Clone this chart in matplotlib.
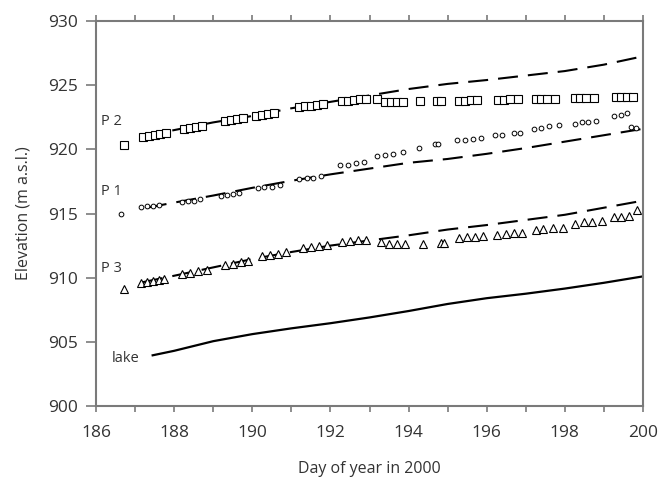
import matplotlib
matplotlib.use("Agg")
from matplotlib import pyplot as plt

plt.rcParams['font.family'] = ['Open Sans', 'DejaVu Sans']

# GPS stake positions (day of year, elevation)
p2_day = [186.72,
          187.2, 187.35, 187.5, 187.65, 187.8,
          188.25, 188.4, 188.55, 188.7,
          189.3, 189.45, 189.6, 189.75,
          190.1, 190.25, 190.4, 190.55,
          191.2, 191.35, 191.5, 191.65, 191.8,
          192.3, 192.45, 192.6, 192.75, 192.9, 193.2,
          193.4, 193.55, 193.7, 193.85,
          194.3, 194.72, 194.82,
          195.3, 195.45, 195.6, 195.75,
          196.3, 196.45, 196.6, 196.8,
          197.25, 197.4, 197.55, 197.75,
          198.25, 198.4, 198.55, 198.75,
          199.3, 199.45, 199.6, 199.75]
p2_elev = [920.3,
           920.95, 921.05, 921.1, 921.2, 921.3,
           921.6, 921.65, 921.75, 921.85,
           922.2, 922.3, 922.35, 922.45,
           922.6, 922.7, 922.75, 922.85,
           923.3, 923.35, 923.4, 923.45, 923.5,
           923.75, 923.8, 923.85, 923.9, 923.95, 923.95,
           923.7, 923.7, 923.7, 923.7,
           923.75, 923.8, 923.8,
           923.8, 923.8, 923.85, 923.85,
           923.85, 923.85, 923.9, 923.9,
           923.95, 923.95, 923.95, 923.95,
           924.0, 924.0, 924.0, 924.0,
           924.05, 924.05, 924.05, 924.1]

p1_day = [186.65,
          187.15, 187.3, 187.45, 187.6,
          188.2, 188.35, 188.5, 188.65,
          189.2, 189.35, 189.5, 189.65,
          190.15, 190.3, 190.5, 190.7,
          191.2, 191.4, 191.55, 191.75,
          192.25, 192.45, 192.65, 192.85,
          193.2, 193.4, 193.6, 193.85,
          194.27, 194.68, 194.76,
          195.25, 195.45, 195.65, 195.85,
          196.2, 196.4, 196.7, 196.85,
          197.2, 197.4, 197.6, 197.85,
          198.25, 198.45, 198.6, 198.8,
          199.25, 199.45, 199.6, 199.7, 199.82]
p1_elev = [915.0,
           915.5, 915.55, 915.6, 915.7,
           915.9, 915.95, 916.0, 916.1,
           916.4, 916.45, 916.5, 916.6,
           917.0, 917.05, 917.1, 917.2,
           917.7, 917.75, 917.8, 917.9,
           918.75, 918.8, 918.9, 919.0,
           919.45, 919.55, 919.65, 919.8,
           920.1, 920.4, 920.4,
           920.7, 920.75, 920.8, 920.9,
           921.1, 921.15, 921.25, 921.3,
           921.6, 921.7, 921.8, 921.9,
           922.0, 922.1, 922.15, 922.2,
           922.6, 922.7, 922.8, 921.75, 921.7]

p3_day = [186.71,
          187.15, 187.3, 187.45, 187.6, 187.75,
          188.2, 188.4, 188.6, 188.85,
          189.3, 189.5, 189.7, 189.9,
          190.25, 190.45, 190.65, 190.85,
          191.3, 191.5, 191.7, 191.9,
          192.3, 192.5, 192.7, 192.9,
          193.3, 193.5, 193.7, 193.9,
          194.37, 194.82, 194.9,
          195.3, 195.5, 195.7, 195.9,
          196.27, 196.5, 196.7, 196.9,
          197.25, 197.45, 197.7, 197.95,
          198.27, 198.5, 198.7, 198.95,
          199.25, 199.45, 199.65, 199.85]
p3_elev = [909.1,
           909.6, 909.7, 909.75, 909.8, 909.9,
           910.3, 910.4, 910.5, 910.6,
           911.0, 911.1, 911.2, 911.3,
           911.65, 911.75, 911.85, 912.0,
           912.3, 912.4, 912.45, 912.55,
           912.8, 912.85, 912.9, 912.95,
           912.75, 912.65, 912.6, 912.6,
           912.65, 912.7, 912.7,
           913.1, 913.15, 913.2, 913.25,
           913.35, 913.4, 913.45, 913.5,
           913.7, 913.8, 913.85, 913.9,
           914.2, 914.3, 914.35, 914.4,
           914.7, 914.75, 914.8, 915.3]

# modelled surface trends
p2_fit_day = [187.2, 188, 189, 190, 191, 192, 193, 194, 195, 196, 197, 198, 199, 200]
p2_fit_elev = [921.0, 921.5, 922.1, 922.6, 923.2, 923.7, 924.2, 924.7, 925.1, 925.4, 925.75, 926.1, 926.6, 927.25]

p1_fit_day = [187.3, 188, 189, 190, 191, 192, 193, 194, 195, 196, 197, 198, 199, 200]
p1_fit_elev = [915.45, 915.85, 916.4, 917.0, 917.55, 918.05, 918.5, 918.95, 919.25, 919.65, 920.1, 920.6, 921.1, 921.6]

p3_fit_day = [187.2, 188, 189, 190, 191, 192, 193, 194, 195, 196, 197, 198, 199, 200]
p3_fit_elev = [909.65, 910.15, 910.8, 911.45, 912.0, 912.5, 912.9, 913.3, 913.75, 914.1, 914.5, 914.9, 915.45, 916.0]

lake_day = [187.45, 188, 189, 190, 191, 192, 193, 194, 195, 196, 197, 198, 199, 200]
lake_elev = [903.95, 904.3, 905.05, 905.6, 906.05, 906.45, 906.9, 907.4, 907.95, 908.4, 908.75, 909.15, 909.6, 910.1]

fig = plt.figure(figsize=(6.59, 4.82), dpi=100)
ax = fig.add_axes([0.1457, 0.1577, 0.83, 0.7987])

dash = (9.6, 4.8)
for fx, fy in [(p2_fit_day, p2_fit_elev), (p1_fit_day, p1_fit_elev), (p3_fit_day, p3_fit_elev)]:
	ax.plot(fx, fy, color='black', lw=1.5, dashes=dash, zorder=2)
ax.plot(lake_day, lake_elev, color='black', lw=1.6, zorder=2)

ax.plot(p2_day, p2_elev, ls='none', marker='s', ms=5.2, mfc='white', mec='black', mew=0.8, zorder=3)
ax.plot(p1_day, p1_elev, ls='none', marker='o', ms=3.4, mfc='white', mec='black', mew=0.7, zorder=3)
ax.plot(p3_day, p3_elev, ls='none', marker='^', ms=6.0, mfc='white', mec='black', mew=0.8, zorder=3)

lbl = dict(fontsize=10.5, color='#333333', ha='center', va='center')
ax.text(186.4, 922.2, 'P 2', **lbl)
ax.text(186.4, 916.7, 'P 1', **lbl)
ax.text(186.4, 910.7, 'P 3', **lbl)
ax.text(186.75, 903.7, 'lake', **lbl)

ax.set_xlim(186, 200)
ax.set_ylim(900, 930)
ax.set_xticks(range(186, 201, 2))
ax.set_xticks(range(186, 201), minor=True)
ax.set_yticks(range(900, 931, 5))

for s in ax.spines.values():
	s.set_color('#7a7a7a')
	s.set_linewidth(1.5)

ax.tick_params(axis='x', which='both', direction='out', top=True, length=4, width=1.2,
	color='#7a7a7a', labelsize=12.5, labelcolor='#333333', pad=10)
ax.tick_params(axis='y', which='both', direction='out', length=7, width=1.2,
	color='#7a7a7a', labelsize=12.5, labelcolor='#333333', pad=6)

ax.set_xlabel('Day of year in 2000', fontsize=11.5, color='#333333', labelpad=14)
ax.set_ylabel('Elevation (m a.s.l.)', fontsize=11.5, color='#333333', labelpad=12)

fig.savefig('out.png', dpi=100)
